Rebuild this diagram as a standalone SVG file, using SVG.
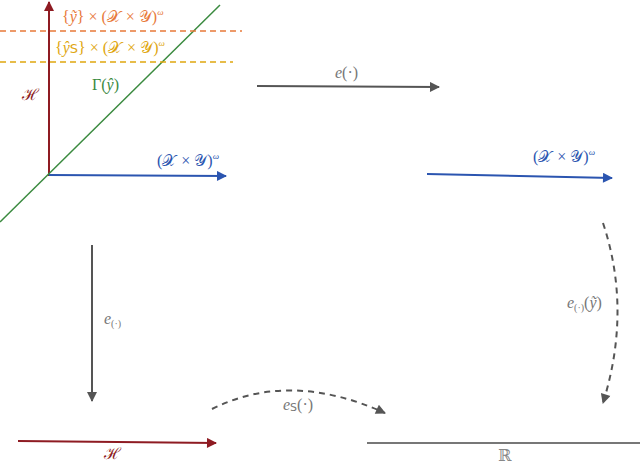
<svg xmlns="http://www.w3.org/2000/svg" width="640" height="465" viewBox="0 0 640 465">
<style>
.m{font-family:"Liberation Serif","DejaVu Serif",serif;font-style:italic;font-size:16px}
.up{font-style:normal}
.sc{font-style:normal}
.sans{font-family:"DejaVu Sans","Liberation Sans",sans-serif;font-style:normal}
.g{fill:#777}
.ln{fill:none;stroke-width:2}
</style>
<defs>
<marker id="aR" viewBox="0 0 10 10" refX="9" refY="5" markerWidth="7" markerHeight="5" orient="auto" markerUnits="strokeWidth"><path d="M0,0L10,5L0,10z" fill="#8e1b22"/></marker>
<marker id="aB" viewBox="0 0 10 10" refX="9" refY="5" markerWidth="7" markerHeight="5" orient="auto" markerUnits="strokeWidth"><path d="M0,0L10,5L0,10z" fill="#2b55b0"/></marker>
<marker id="aG" viewBox="0 0 10 10" refX="9" refY="5" markerWidth="7" markerHeight="5" orient="auto" markerUnits="strokeWidth"><path d="M0,0L10,5L0,10z" fill="#555"/></marker>
</defs>
<rect width="640" height="465" fill="#fff"/>

<g id="axes-left">
<line x1="49" y1="176" x2="49" y2="2" stroke="#8e1b22" class="ln" marker-end="url(#aR)"/>
<line x1="49" y1="175" x2="226" y2="176" stroke="#2b55b0" class="ln" marker-end="url(#aB)"/>
<line x1="0" y1="222" x2="220" y2="5" stroke="#3a8a3f" stroke-width="1.5"/>
<line x1="0" y1="31" x2="242" y2="31" stroke="#e8793a" stroke-width="1.5" stroke-dasharray="6,4"/>
<line x1="0" y1="62" x2="233" y2="62" stroke="#e0a60e" stroke-width="1.5" stroke-dasharray="6,4"/>
<text class="m" x="62" y="22" fill="#e8793a"><tspan class="up">{</tspan>ỹ<tspan class="up">} × (</tspan><tspan class="sc">𝒳</tspan><tspan class="up" dx="1"> × </tspan><tspan class="sc">𝒴</tspan><tspan class="up">)</tspan><tspan font-size="9" dy="-7">ω</tspan></text>
<text class="m" x="55" y="53" fill="#e0a60e"><tspan class="up">{</tspan>ŷ<tspan class="sans" font-size="13">S</tspan><tspan class="up">} × (</tspan><tspan class="sc">𝒳</tspan><tspan class="up" dx="1"> × </tspan><tspan class="sc">𝒴</tspan><tspan class="up">)</tspan><tspan font-size="9" dy="-7">ω</tspan></text>
<text class="m" x="92" y="90" fill="#3a8a3f"><tspan class="up">Γ(</tspan>ŷ<tspan class="up">)</tspan></text>
<text class="m" x="22" y="100" fill="#8e1b22"><tspan class="sc">ℋ</tspan></text>
<text class="m" x="157" y="166" fill="#2b55b0"><tspan class="up">(</tspan><tspan class="sc">𝒳</tspan><tspan class="up" dx="1"> × </tspan><tspan class="sc">𝒴</tspan><tspan class="up">)</tspan><tspan font-size="9" dy="-7">ω</tspan></text>
</g>

<g id="axis-right">
<line x1="427" y1="174" x2="612" y2="178" stroke="#2b55b0" class="ln" marker-end="url(#aB)"/>
<text class="m" x="533" y="162" fill="#2b55b0"><tspan class="up">(</tspan><tspan class="sc">𝒳</tspan><tspan class="up" dx="1"> × </tspan><tspan class="sc">𝒴</tspan><tspan class="up">)</tspan><tspan font-size="9" dy="-7">ω</tspan></text>
</g>

<g id="axis-H">
<line x1="18" y1="441" x2="216" y2="443" stroke="#8e1b22" class="ln" marker-end="url(#aR)"/>
<text class="m" x="104" y="459" fill="#8e1b22"><tspan class="sc">ℋ</tspan></text>
</g>

<g id="axis-R">
<line x1="367" y1="443" x2="640" y2="443" stroke="#777" stroke-width="2"/>
<text class="m up" x="498" y="461" fill="#888">ℝ</text>
</g>

<g id="connectors">
<line x1="257" y1="86" x2="439" y2="87" stroke="#555" class="ln" marker-end="url(#aG)"/>
<text class="m g" x="335" y="78"><tspan>e</tspan><tspan class="up">(·)</tspan></text>
<line x1="92" y1="245" x2="92" y2="401" stroke="#555" class="ln" marker-end="url(#aG)"/>
<text class="m g" x="104" y="324">e<tspan class="up" font-size="10" dy="3">(·)</tspan></text>
<path d="M603,223 Q632,310 603,403" stroke="#555" class="ln" stroke-dasharray="6,5" marker-end="url(#aG)"/>
<text class="m g" x="567" y="308">e<tspan class="up" font-size="10" dy="3">(·)</tspan><tspan class="up" dy="-3">(</tspan>ỹ<tspan class="up">)</tspan></text>
<path d="M212,409 Q290,370 385,413" stroke="#555" class="ln" stroke-dasharray="6,5" marker-end="url(#aG)"/>
<text class="m g" x="283" y="410">e<tspan class="sans" font-size="11" dy="1">S</tspan><tspan class="up" dy="-1">(·)</tspan></text>
</g>
</svg>
